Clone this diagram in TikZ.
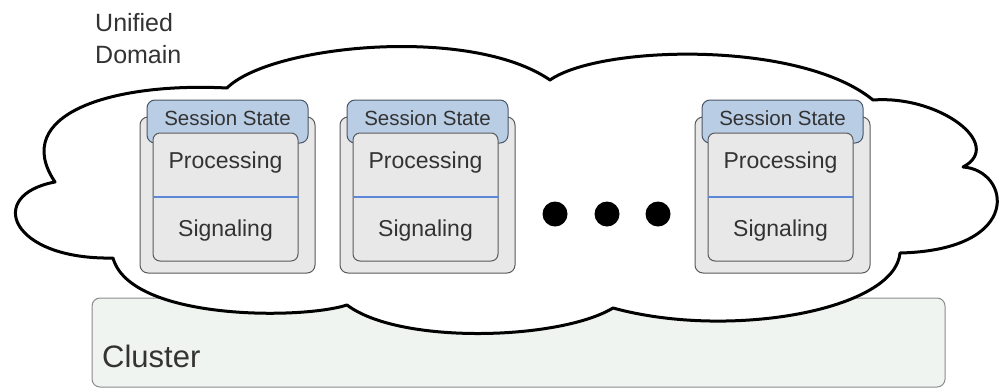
\documentclass[tikz,border=0pt]{standalone}
\usepackage{fontspec}
\setmainfont{Liberation Sans}
\usepackage{xcolor}
\usepackage{tikz}
\usetikzlibrary{calc}
\definecolor{boxgray}{HTML}{E8E8E8}
\definecolor{edgegray}{HTML}{5A5A5A}
\definecolor{statefill}{HTML}{B9CDE5}
\definecolor{stateedge}{HTML}{4A5668}
\definecolor{sepblue}{HTML}{5B87D6}
\definecolor{clusterfill}{HTML}{EFF4F0}
\definecolor{clusteredge}{HTML}{8A8A8A}
\definecolor{inkgray}{HTML}{333333}
\newcommand{\fsize}[1]{\fontsize{#1}{#1}\selectfont}

\begin{document}
\begin{tikzpicture}[x=1pt, y=-1pt,
  serverbox/.style={draw=edgegray, fill=boxgray, line width=1pt,
    rounded corners=8pt, minimum width=175pt, minimum height=156pt, inner sep=0pt},
  statetab/.style={draw=stateedge, fill=statefill, line width=1pt,
    rounded corners=8pt, minimum width=161pt, minimum height=43pt, inner sep=0pt},
  corebox/.style={draw=edgegray, fill=boxgray, line width=1pt,
    rounded corners=7pt, minimum width=145pt, minimum height=128pt, inner sep=0pt},
  sepline/.style={draw=sepblue, line width=1.3pt},
  cloudline/.style={draw=black, fill=white, line width=3pt, line join=round},
  label/.style={text=inkgray, inner sep=0pt, anchor=base},
  dot/.style={circle, fill=black, minimum size=25pt, inner sep=0pt}]
\useasboundingbox (0,0) rectangle (1000,389);

% cluster underneath the domain
\node[draw=clusteredge, fill=clusterfill, line width=1pt, rounded corners=8pt,
  minimum width=853pt, minimum height=89pt, inner sep=0pt] (cluster) at (518.5,342.5) {};

% unified domain cloud
\path[cloudline] (227,88)
  .. controls (270,45) and (470,25) .. (550,80)
  .. controls (600,45) and (800,40) .. (873,100)
  .. controls (940,95) and (1005,145) .. (963,167)
  .. controls (1010,170) and (1025,250) .. (900,253)
  .. controls (895,310) and (730,340) .. (613,308)
  .. controls (560,340) and (400,345) .. (347,305)
  .. controls (300,320) and (130,320) .. (113,258)
  .. controls (10,260) and (-15,195) .. (55,182)
  .. controls (10,115) and (110,82) .. (227,88) -- cycle;

\node[label, anchor=base west, font=\fsize{31}] (clustername) at (102,367) {Cluster};
\node[label, anchor=north west, align=left, font=\fontsize{25}{32}\selectfont]
  (domainname) at (95,13) {Unified\\Domain};

% the servers
\foreach \o/\n in {0/a, 200/b, 555/c}{
  \node[serverbox] (srv\n) at (227.5+\o,195) {};
  \node[statetab] (tab\n) at (227.5+\o,121.5) {};
  \node[corebox] (core\n) at (225.5+\o,197) {};
  \draw[sepline] (core\n.west) -- (core\n.east);
  \node[label, font=\fsize{20.5}] (state\n) at (227.5+\o,125) {Session State};
  \node[label, font=\fsize{23}] (proc\n) at (225.5+\o,168) {Processing};
  \node[label, font=\fsize{23}] (sig\n) at (225.5+\o,236) {Signaling};
}

% more servers
\node[dot] (dot1) at (555,214) {};
\node[dot] (dot2) at (607,214) {};
\node[dot] (dot3) at (658,214) {};
\end{tikzpicture}
\end{document}
